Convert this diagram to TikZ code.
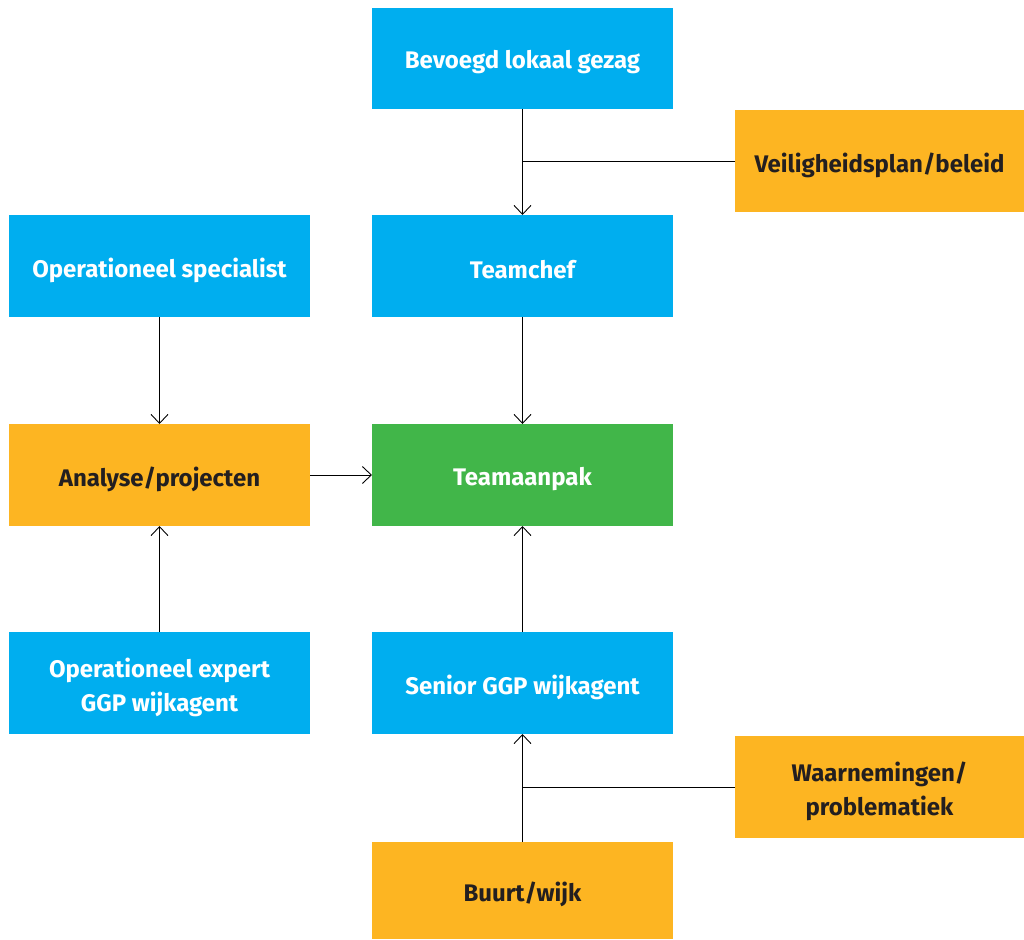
\documentclass[tikz,border=0pt]{standalone}
\usepackage{fontspec}
\setmainfont{Fira Sans}
\usetikzlibrary{arrows.meta}
\definecolor{cblue}{RGB}{0,174,239}
\definecolor{corange}{RGB}{253,181,34}
\definecolor{cgreen}{RGB}{65,182,73}
\definecolor{ctext}{RGB}{35,31,32}
\begin{document}
\begin{tikzpicture}[x=1pt,y=-1pt,
  box/.style={inner sep=0pt, outer sep=0pt, minimum width=301pt, minimum height=102pt},
  txt/.style={align=center, inner sep=0pt, yshift=-4pt, font=\fontsize{24}{34}\selectfont\bfseries},
  bluebox/.style={box, fill=cblue},
  orangebox/.style={box, fill=corange},
  greenbox/.style={box, fill=cgreen},
  wtxt/.style={txt, text=white},
  dtxt/.style={txt, text=ctext},
  conn/.style={draw=black, line width=0.9pt},
  arr/.style={conn, -{Straight Barb[length=9pt,width=17pt,line width=0.9pt]}}
]
\useasboundingbox (0,0) rectangle (1024,939);
\node[bluebox, minimum height=101pt, label={[wtxt]center:Bevoegd lokaal gezag}] (bev) at (522.5,58.5) {};
\node[orangebox, minimum width=289pt, label={[dtxt]center:Veiligheidsplan/beleid}] (vei) at (879.5,161) {};
\node[bluebox, label={[wtxt]center:Operationeel specialist}] (ops) at (159.5,266) {};
\node[bluebox, label={[wtxt]center:Teamchef}] (tc) at (522.5,266) {};
\node[orangebox, label={[dtxt]center:Analyse/projecten}] (ana) at (159.5,475) {};
\node[greenbox, label={[wtxt]center:Teamaanpak}] (ta) at (522.5,475) {};
\node[bluebox, label={[wtxt]center:Operationeel expert\\GGP wijkagent}] (ope) at (159.5,683) {};
\node[bluebox, label={[wtxt]center:Senior GGP wijkagent}] (sen) at (522.5,683) {};
\node[orangebox, minimum width=289pt, label={[dtxt]center:Waarnemingen/\\problematiek}] (waa) at (879.5,787) {};
\node[orangebox, minimum height=97pt, label={[dtxt]center:Buurt/wijk}] (buu) at (522.5,890.5) {};
\coordinate (j1) at (bev.south |- vei.west);
\coordinate (j2) at (buu.north |- waa.west);
\draw[arr] (bev.south) -- (tc.north);
\draw[conn] (vei.west) -- (j1);
\draw[arr] (ops.south) -- (ana.north);
\draw[arr] (tc.south) -- (ta.north);
\draw[arr] (ana.east) -- (ta.west);
\draw[arr] (ope.north) -- (ana.south);
\draw[arr] (sen.north) -- (ta.south);
\draw[arr] (buu.north) -- (sen.south);
\draw[conn] (waa.west) -- (j2);
\end{tikzpicture}
\end{document}
